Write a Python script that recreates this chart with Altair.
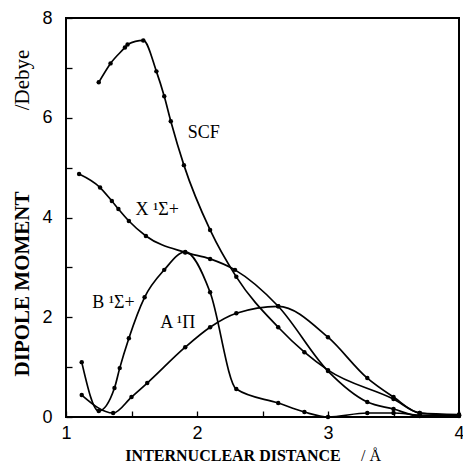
import altair as alt
import pandas as pd

# ---- data ----
scf_x = [1.25, 1.34, 1.45, 1.47, 1.59, 1.69, 1.75, 1.80, 1.90, 2.10, 2.30, 2.62, 2.82, 3.00, 3.50, 3.70, 4.00]
scf_y = [6.71, 7.09, 7.41, 7.47, 7.55, 6.93, 6.43, 5.93, 5.05, 3.75, 2.81, 1.80, 1.30, 0.94, 0.36, 0.08, 0.03]

xs_x = [1.10, 1.26, 1.35, 1.40, 1.48, 1.61, 1.91, 2.10, 2.29, 2.62, 3.00, 3.30, 3.50, 3.70, 4.00]
xs_y = [4.87, 4.60, 4.33, 4.17, 3.93, 3.63, 3.30, 3.17, 2.95, 2.22, 0.92, 0.30, 0.16, 0.02, 0.02]

b_x = [1.12, 1.25, 1.37, 1.41, 1.48, 1.60, 1.75, 1.91, 2.10, 2.30, 2.62, 2.82, 3.00, 3.30, 3.50, 3.70, 4.00]
b_y = [1.10, 0.12, 0.58, 0.98, 1.58, 2.40, 2.95, 3.31, 2.50, 0.56, 0.28, 0.10, 0.00, 0.08, 0.08, 0.04, 0.03]

a_x = [1.12, 1.36, 1.50, 1.62, 1.91, 2.10, 2.30, 2.62, 3.00, 3.30, 3.50, 3.70, 4.00]
a_y = [0.44, 0.08, 0.40, 0.68, 1.40, 1.80, 2.08, 2.22, 1.60, 0.78, 0.40, 0.08, 0.05]

label_text = ["SCF", "X \u00b9\u03a3+", "B \u00b9\u03a3+", "A \u00b9\u03a0"]
label_x = [1.93, 1.53, 1.20, 1.72]
label_y = [5.60, 4.05, 2.18, 1.78]

x_ticks = [1, 1.5, 2, 2.5, 3, 3.5, 4]
y_ticks = [0, 1, 2, 3, 4, 5, 6, 7, 8]
x_range = [1, 4]
y_range = [0, 8]

rows = []
for name, xv, yv in [("SCF", scf_x, scf_y), ("X", xs_x, xs_y), ("B", b_x, b_y), ("A", a_x, a_y)]:
    for a, b in zip(xv, yv):
        rows.append({"series": name, "r": a, "mu": b})
df = pd.DataFrame(rows)
labels = pd.DataFrame({"text": label_text, "r": label_x, "mu": label_y})

# plot frame as a closed path around the axis ranges
x0, x1 = x_range
y0, y1 = y_range
frame_df = pd.DataFrame({
    "r": [x0, x1, x1, x0, x0],
    "mu": [y0, y0, y1, y1, y0],
    "step": [0, 1, 2, 3, 4],
})

xscale = alt.Scale(domain=x_range, nice=False, zero=False)
yscale = alt.Scale(domain=y_range, nice=False)

xaxis = alt.Axis(
    values=x_ticks, title=None,
    labelExpr="datum.value % 1 == 0 ? format(datum.value, 'd') : ''",
    offset=-6, tickSize=6, labelPadding=7, domain=False, grid=False, labelFlush=False,
    tickColor="black", tickWidth=1.3, labelFont="Liberation Sans", labelFontSize=18, labelColor="black",
)
yaxis = alt.Axis(
    values=y_ticks, title=None,
    labelExpr="datum.value % 2 == 0 ? format(datum.value, 'd') : ''",
    offset=-6, tickSize=6, labelPadding=14, domain=False, grid=False, labelFlush=False,
    tickColor="black", tickWidth=1.3, labelFont="Liberation Sans", labelFontSize=18, labelColor="black",
)

frame = alt.Chart(frame_df).mark_line(color="black", strokeWidth=2, interpolate="linear").encode(
    x=alt.X("r:Q", scale=xscale, axis=xaxis),
    y=alt.Y("mu:Q", scale=yscale, axis=yaxis),
    order="step:Q",
)
base = alt.Chart(df)
lines = base.mark_line(color="black", strokeWidth=1.7, interpolate="monotone").encode(
    x=alt.X("r:Q", scale=xscale),
    y=alt.Y("mu:Q", scale=yscale),
    detail="series:N",
)
points = base.mark_circle(color="black", size=20, opacity=1).encode(
    x=alt.X("r:Q", scale=xscale),
    y=alt.Y("mu:Q", scale=yscale),
)
texts = alt.Chart(labels).mark_text(
    align="left", baseline="alphabetic", font="Liberation Serif", fontSize=18, color="black"
).encode(
    x=alt.X("r:Q", scale=xscale),
    y=alt.Y("mu:Q", scale=yscale),
    text="text:N",
)

one = pd.DataFrame({"k": [0]})
def title_part(txt, x, y, size, weight, angle=0):
    return alt.Chart(one).mark_text(
        text=txt, font="Liberation Serif", fontSize=size, fontWeight=weight,
        color="black", align="center", baseline="alphabetic", angle=angle,
    ).encode(x=alt.value(x), y=alt.value(y))

xt1 = title_part("INTERNUCLEAR DISTANCE", 167, 443, 16, "bold")
xt2 = title_part("/ \u00c5", 305, 443, 16, "normal")
yt1 = title_part("DIPOLE MOMENT", -37, 266, 21, "bold", angle=270)
yt2 = title_part("/Debye", -37, 62, 21, "normal", angle=270)

chart = alt.layer(frame, lines, points, texts, xt1, xt2, yt1, yt2).properties(
    width=393, height=399,
    autosize=alt.AutoSizeParams(type="none"),
    padding={"left": 66, "top": 18, "right": 4, "bottom": 54},
    background="white",
).configure_view(stroke="black", strokeWidth=2)

chart.save("out.html", embed_options={"renderer": "svg", "actions": False})
